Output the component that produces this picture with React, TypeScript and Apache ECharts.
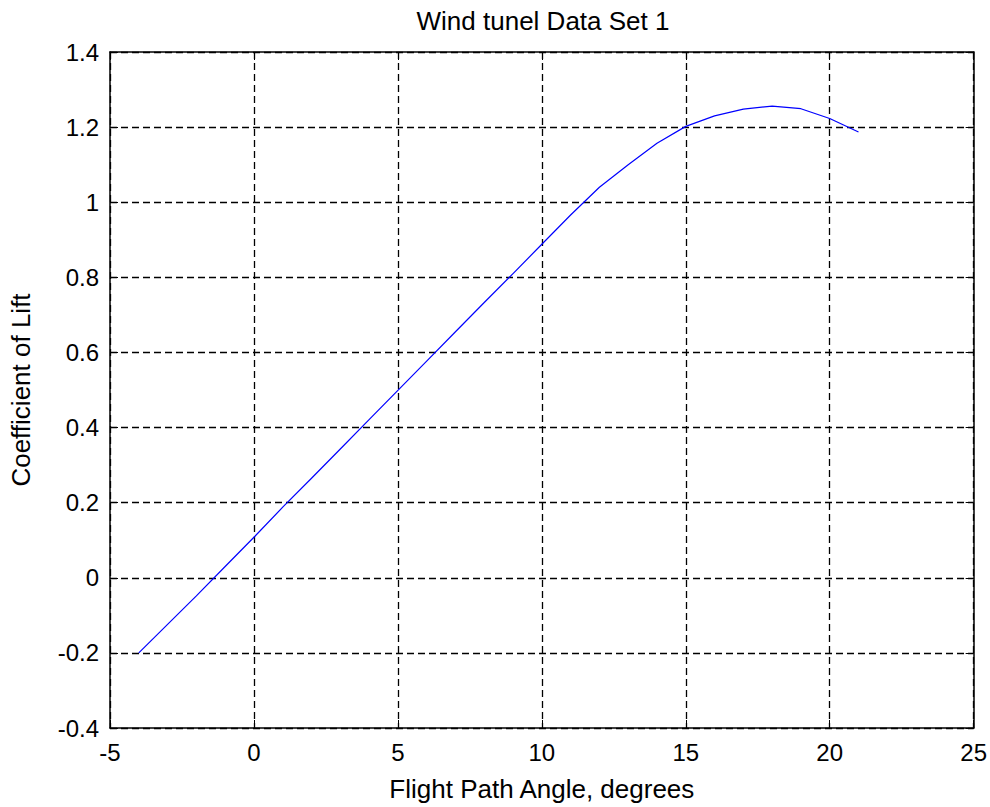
import React, { useEffect, useRef } from "react";
import * as echarts from "echarts";

const angles = [-4, -3, -2, -1, 0, 1, 2, 3, 4, 5, 6, 7, 8, 9, 10, 11, 12, 13, 14, 15, 16, 17, 18, 19, 20, 21];
const lift = [-0.2, -0.124, -0.048, 0.03, 0.108, 0.188, 0.265, 0.343, 0.421, 0.499, 0.577, 0.655, 0.733, 0.81, 0.888, 0.966, 1.04, 1.1, 1.157, 1.202, 1.23, 1.248, 1.256, 1.249, 1.223, 1.187];

const titleText = "Wind tunel Data Set 1";
const xName = "Flight Path Angle, degrees";
const yName = "Coefficient of Lift";

const FONT = "'Liberation Sans', Arial, sans-serif";

export default function App() {
  const ref = useRef<HTMLDivElement>(null);
  useEffect(() => {
    if (!ref.current) return;
    const chart = echarts.init(ref.current, null, { renderer: "svg" });
    const axisLine = { show: true, onZero: false, lineStyle: { color: "#000", width: 1.5 } };
    const tick = { show: true, inside: true, length: 8, lineStyle: { color: "#000", width: 1 } };
    const split = { show: true, lineStyle: { color: "#000", type: [7, 4], width: 1.3 } };
    const label = { color: "#000", fontSize: 24, fontFamily: FONT };
    chart.setOption({
      animation: false,
      backgroundColor: "#fff",
      title: {
        text: titleText,
        left: 538,
        top: 3,
        textAlign: "center",
        textStyle: { color: "#000", fontSize: 26, fontWeight: "normal", fontFamily: FONT },
      },
      grid: { left: 106, top: 52, width: 869, height: 683, containLabel: false },
      xAxis: [
        {
          type: "value",
          min: -5,
          max: 25,
          interval: 5,
          position: "bottom",
          axisLine,
          axisTick: tick,
          splitLine: split,
          axisLabel: { ...label, margin: 12 },
          name: xName,
          nameLocation: "middle",
          nameGap: 48,
          nameTextStyle: { color: "#000", fontSize: 26, fontFamily: FONT },
        },
        {
          type: "value",
          min: -5,
          max: 25,
          interval: 5,
          position: "top",
          axisLine,
          axisTick: tick,
          splitLine: { show: false },
          axisLabel: { show: false },
        },
      ],
      yAxis: [
        {
          type: "value",
          min: -0.4,
          max: 1.4,
          interval: 0.2,
          position: "left",
          axisLine,
          axisTick: tick,
          splitLine: split,
          axisLabel: { ...label, margin: 11 },
          name: yName,
          nameLocation: "middle",
          nameGap: 76,
          nameTextStyle: { color: "#000", fontSize: 26, fontFamily: FONT },
        },
        {
          type: "value",
          min: -0.4,
          max: 1.4,
          interval: 0.2,
          position: "right",
          axisLine,
          axisTick: tick,
          splitLine: { show: false },
          axisLabel: { show: false },
        },
      ],
      series: [
        {
          type: "line",
          data: angles.map((a, i) => [a, lift[i]]),
          xAxisIndex: 0,
          yAxisIndex: 0,
          showSymbol: false,
          lineStyle: { color: "#0000ff", width: 1.2 },
        },
      ],
    });
    return () => chart.dispose();
  }, []);
  return (
    <div
      ref={ref}
      style={{ position: "absolute", left: 0, top: 0, width: 990, height: 807 }}
    />
  );
}
